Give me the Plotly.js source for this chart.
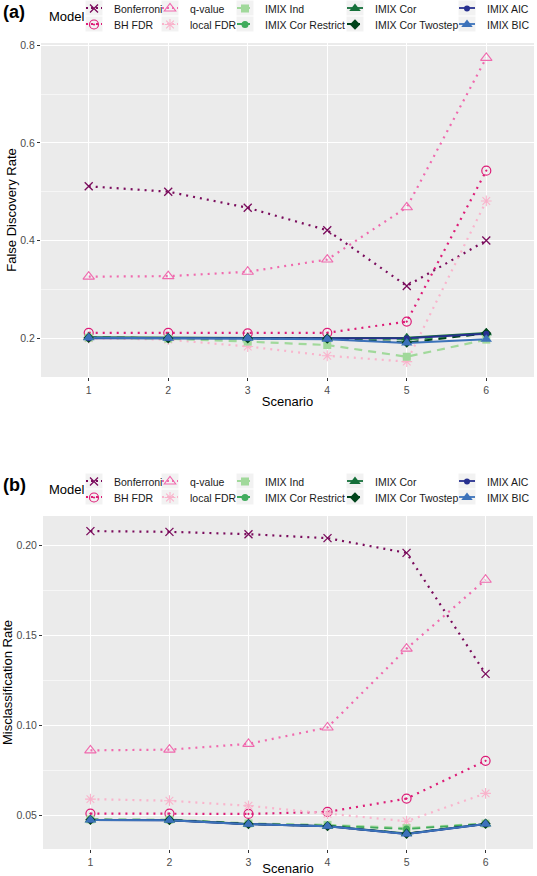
<!DOCTYPE html>
<html>
<head>
<meta charset="utf-8">
<script src="https://cdn.plot.ly/plotly-3.0.1.min.js"></script>
<style>
html,body{margin:0;padding:0;background:#fff;}
#chart{width:537px;height:876px;}
</style>
</head>
<body>
<div id="chart"></div>
<script>
// ---------- data ----------
const scenarios = [1, 2, 3, 4, 5, 6];
const models = ["Bonferroni", "BH FDR", "q-value", "local FDR", "IMIX Ind",
                "IMIX Cor Restrict", "IMIX Cor", "IMIX Cor Twostep", "IMIX AIC", "IMIX BIC"];

// False Discovery Rate (panel a)
const fdrBonferroni      = [0.511, 0.500, 0.467, 0.421, 0.307, 0.400];
const fdrBH              = [0.211, 0.211, 0.210, 0.211, 0.234, 0.543];
const fdrQvalue          = [0.326, 0.327, 0.336, 0.361, 0.468, 0.774];
const fdrLocal           = [0.200, 0.197, 0.183, 0.164, 0.152, 0.481];
const fdrImixInd         = [0.201, 0.199, 0.193, 0.186, 0.162, 0.197];
const fdrImixCorRestrict = [0.201, 0.200, 0.200, 0.200, 0.197, 0.209];
const fdrImixCor         = [0.202, 0.201, 0.201, 0.200, 0.201, 0.211];
const fdrImixCorTwostep  = [0.201, 0.200, 0.200, 0.199, 0.191, 0.210];
const fdrImixAIC         = [0.200, 0.200, 0.200, 0.199, 0.200, 0.209];
const fdrImixBIC         = [0.201, 0.200, 0.200, 0.198, 0.190, 0.198];

// Misclassification Rate (panel b)
const misBonferroni      = [0.2080, 0.2076, 0.2063, 0.2041, 0.1959, 0.1287];
const misBH              = [0.0511, 0.0511, 0.0509, 0.0520, 0.0594, 0.0804];
const misQvalue          = [0.0862, 0.0866, 0.0898, 0.0989, 0.1427, 0.1810];
const misLocal           = [0.0591, 0.0582, 0.0554, 0.0509, 0.0468, 0.0623];
const misImixInd         = [0.0478, 0.0477, 0.0456, 0.0448, 0.0430, 0.0455];
const misImixCorRestrict = [0.0477, 0.0476, 0.0454, 0.0444, 0.0425, 0.0454];
const misImixCor         = [0.0476, 0.0475, 0.0453, 0.0441, 0.0400, 0.0454];
const misImixCorTwostep  = [0.0476, 0.0475, 0.0453, 0.0441, 0.0399, 0.0454];
const misImixAIC         = [0.0475, 0.0474, 0.0452, 0.0440, 0.0398, 0.0453];
const misImixBIC         = [0.0475, 0.0474, 0.0452, 0.0440, 0.0398, 0.0453];

const fdrTicks = [0.2, 0.4, 0.6, 0.8];
const misTicks = [0.05, 0.10, 0.15, 0.20];

// ---------- styles ----------
const W = 537, H = 876;
const px = x => x / W;
const py = y => 1 - y / H;

const DOT = "2px,5px", DASH = "8px,6px";
const KDOT = "2px,3px", KDASH = "5px,3px";
const styles = [
  {color: "#7A0B5C", dash: DOT,  kdash: KDOT,  lw: 2.2, sym: "x-thin-open",      size: 8,  mlw: 1.3},
  {color: "#DD1C77", dash: DOT,  kdash: KDOT,  lw: 2.2, sym: "circle-open-dot",  size: 9,  mlw: 1.2},
  {color: "#F06AAE", dash: DOT,  kdash: KDOT,  lw: 2.2, sym: "triangle-up-open", size: 10, mlw: 1.1},
  {color: "#F9B4CC", dash: DOT,  kdash: KDOT,  lw: 2.2, sym: "asterisk-open",    size: 9,  mlw: 1.1},
  {color: "#A1D99B", dash: DASH, kdash: KDASH, lw: 2.2, sym: "square",           size: 8,  mlw: 0},
  {color: "#41AB5D", dash: DASH, kdash: KDASH, lw: 1.8, sym: "circle",           size: 7,  mlw: 0},
  {color: "#15703A", dash: "solid", kdash: "solid", lw: 1.8, sym: "triangle-up", size: 10, mlw: 0},
  {color: "#00441B", dash: DASH, kdash: KDASH, lw: 2.0, sym: "diamond",          size: 8,  mlw: 0},
  {color: "#27308F", dash: "solid", kdash: "solid", lw: 2.0, sym: "circle",      size: 6,  mlw: 0},
  {color: "#3C72BA", dash: "solid", kdash: "solid", lw: 2.0, sym: "triangle-up", size: 10, mlw: 0}
];

const fdrSeries = [fdrBonferroni, fdrBH, fdrQvalue, fdrLocal, fdrImixInd,
                   fdrImixCorRestrict, fdrImixCor, fdrImixCorTwostep, fdrImixAIC, fdrImixBIC];
const misSeries = [misBonferroni, misBH, misQvalue, misLocal, misImixInd,
                   misImixCorRestrict, misImixCor, misImixCorTwostep, misImixAIC, misImixBIC];

// legend grid: column text-start x (px) and row center y (px)
const colText = [114, 190, 265, 375, 487];
const rowYa = [8, 24];
const panelOffset = 473;
const legendBias = -0.5;

const lineTraces = [];
const markerTraces = [];
const layout = {
  width: W, height: H,
  margin: {l: 0, r: 0, t: 0, b: 0, autoexpand: false},
  showlegend: true,
  paper_bgcolor: "#ffffff",
  plot_bgcolor: "#EBEBEB",
  font: {family: "Liberation Sans, Arial, sans-serif", color: "#000"},
  shapes: [],
  annotations: []
};

function addPanel(series, xa, ya, legendBase, yOff) {
  series.forEach((vals, i) => {
    const s = styles[i];
    const key = "legend" + (legendBase + i);
    lineTraces.push({
      type: "scatter", mode: "lines",
      x: scenarios, y: vals, name: models[i],
      xaxis: xa, yaxis: ya, showlegend: false,
      line: {color: s.color, width: s.lw, dash: s.dash},
      hoverinfo: "skip"
    });
    markerTraces.push({
      type: "scatter", mode: "markers",
      x: scenarios, y: vals, name: models[i],
      xaxis: xa, yaxis: ya,
      legend: key,
      marker: {symbol: s.sym, size: s.size, color: s.color,
               line: {color: s.color, width: s.mlw}},
      hoverinfo: "x+y+name"
    });
    const col = Math.floor(i / 2), row = i % 2;
    const tx = colText[col], ty = rowYa[row] + yOff;
    layout[key] = {
      x: px(tx - 40), y: py(ty - legendBias), xanchor: "left", yanchor: "middle",
      bgcolor: "rgba(0,0,0,0)", borderwidth: 0,
      font: {size: 10.5, color: "#1a1a1a"},
      itemwidth: 30, tracegroupgap: 0
    };
    // legend key background box
    layout.shapes.push({
      type: "rect", xref: "paper", yref: "paper", layer: "below",
      x0: px(tx - 28.5), x1: px(tx - 11.5), y0: py(ty + 7.5), y1: py(ty - 7.5),
      fillcolor: "#F2F2F2", line: {width: 0}
    });
    // legend key line segment
    layout.shapes.push({
      type: "line", xref: "paper", yref: "paper", layer: "above",
      x0: px(tx - 28), x1: px(tx - 12), y0: py(ty), y1: py(ty),
      line: {color: s.color, width: Math.min(s.lw, 1.8), dash: s.kdash}
    });
  });
}

addPanel(fdrSeries, "x", "y", 2, 0);
addPanel(misSeries, "x2", "y2", 12, panelOffset);

const tickFont = {size: 10.5, color: "#4D4D4D"};
const titleFont = {size: 13, color: "#000"};

const xCommon = {
  range: [0.4, 6.6], tickvals: scenarios, ticktext: scenarios.map(String),
  showgrid: true, gridcolor: "#ffffff", gridwidth: 1.1,
  zeroline: false, showline: false,
  ticks: "outside", ticklen: 3, tickcolor: "#333333", tickwidth: 1,
  tickfont: tickFont
};

layout.xaxis = Object.assign({}, xCommon, {
  domain: [px(41), px(534)], anchor: "y",
  title: {text: "Scenario", font: titleFont, standoff: 2}
});
layout.yaxis = {
  domain: [py(377), py(43)], anchor: "x",
  range: [0.1205, 0.8045], tickvals: fdrTicks, tickformat: ".1f",
  showgrid: true, gridcolor: "#ffffff", gridwidth: 1.1,
  minor: {dtick: 0.1, tick0: 0, showgrid: true, gridcolor: "#ffffff", gridwidth: 0.55, ticks: ""},
  zeroline: false, showline: false,
  ticks: "outside", ticklen: 3, tickcolor: "#333333", tickwidth: 1,
  tickfont: tickFont,
  title: {text: "False Discovery Rate", font: titleFont, standoff: 0}
};
layout.xaxis2 = Object.assign({}, xCommon, {
  domain: [px(43), px(533)], anchor: "y2",
  title: {text: "Scenario", font: titleFont, standoff: 2}
});
layout.yaxis2 = {
  domain: [py(849), py(516)], anchor: "x2",
  range: [0.0314, 0.2164], tickvals: misTicks, tickformat: ".2f",
  showgrid: true, gridcolor: "#ffffff", gridwidth: 1.1,
  minor: {dtick: 0.025, tick0: 0, showgrid: true, gridcolor: "#ffffff", gridwidth: 0.55, ticks: ""},
  zeroline: false, showline: false,
  ticks: "outside", ticklen: 3, tickcolor: "#333333", tickwidth: 1,
  tickfont: tickFont,
  title: {text: "Misclassification Rate", font: titleFont, standoff: 0}
};

// panel tags and legend titles
[["(a)", 0], ["(b)", panelOffset]].forEach(([lab, off]) => {
  layout.annotations.push({
    text: "<b>" + lab + "</b>", xref: "paper", yref: "paper",
    x: px(1), y: py(12 + off), xanchor: "left", yanchor: "middle",
    showarrow: false, font: {size: 18, color: "#000"}
  });
  layout.annotations.push({
    text: "Model", xref: "paper", yref: "paper",
    x: px(47), y: py(16 + off), xanchor: "left", yanchor: "middle",
    showarrow: false, font: {size: 13, color: "#000"}
  });
});

Plotly.newPlot("chart", lineTraces.concat(markerTraces), layout, {displayModeBar: false, staticPlot: true});
</script>
</body>
</html>
